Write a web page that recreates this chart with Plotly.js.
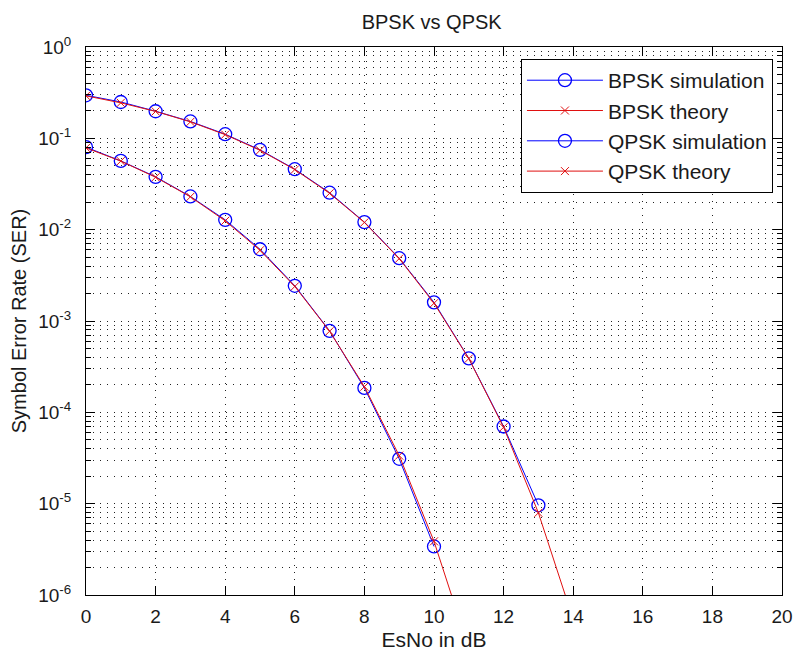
<!DOCTYPE html>
<html>
<head>
<meta charset="utf-8">
<script src="https://cdn.plot.ly/plotly-3.0.1.min.js"></script>
<style>html,body{margin:0;padding:0;background:#fff;}#chart{width:795px;height:652px;}</style>
</head>
<body>
<div id="chart"></div>
<script>
// ---- data ----
const esnoSimBPSK = [0,1,2,3,4,5,6,7,8,9,10];
const serSimBPSK  = [0.0800,0.0566,0.0379,0.0231,0.0128,0.0061,0.00243,7.8e-4,1.85e-4,3.1e-5,3.4e-6];
const esnoThBPSK  = [0,1,2,3,4,5,6,7,8,9,10,11,12];
const serThBPSK   = [0.0786,0.0563,0.0375,0.0229,0.0125,0.00595,0.00239,7.73e-4,1.91e-4,3.36e-5,3.87e-6,2.61e-7,9.0e-9];
const esnoSimQPSK = [0,1,2,3,4,5,6,7,8,9,10,11,12,13];
const serSimQPSK  = [0.296,0.250,0.198,0.153,0.111,0.0748,0.0459,0.0254,0.0121,0.00487,1.6e-3,3.9e-4,7.0e-5,9.6e-6];
const esnoThQPSK  = [0,1,2,3,4,5,6,7,8,9,10,11,12,13,14,15];
const serThQPSK   = [0.292,0.2447,0.1972,0.1516,0.1098,0.0740,0.0455,0.0250,0.0120,0.00482,1.565e-3,3.88e-4,6.86e-5,7.94e-6,5.4e-7,1.9e-8];
const legendNames = ['BPSK simulation','BPSK theory','QPSK simulation','QPSK theory'];
const yTickVals = [1e-6,1e-5,1e-4,1e-3,1e-2,1e-1,1];
const yTickText = ['10<sup>-6</sup>','10<sup>-5</sup>','10<sup>-4</sup>','10<sup>-3</sup>','10<sup>-2</sup>','10<sup>-1</sup>','10<sup>0</sup>'];

// minor tick positions (2..9 per decade)
const yMinor = [];
for (let e = -6; e < 0; e++) for (let m = 2; m <= 9; m++) yMinor.push(m * Math.pow(10, e));

const BLUE = '#0000ff', RED = '#e01010';
function sim(x, y, name) {
  return {x: x, y: y, name: name, type: 'scatter', mode: 'lines+markers',
    line: {color: BLUE, width: 1},
    marker: {symbol: 'circle-open', size: 13, color: BLUE, line: {width: 1.3, color: BLUE}}};
}
function th(x, y, name) {
  return {x: x, y: y, name: name, type: 'scatter', mode: 'lines+markers',
    line: {color: RED, width: 1},
    marker: {symbol: 'x-thin-open', size: 8, color: RED, line: {width: 1, color: RED}}};
}
const data = [
  sim(esnoSimBPSK, serSimBPSK, legendNames[0]),
  th(esnoThBPSK, serThBPSK, legendNames[1]),
  sim(esnoSimQPSK, serSimQPSK, legendNames[2]),
  th(esnoThQPSK, serThQPSK, legendNames[3])
];
const FONT = 'Liberation Sans, Arial, sans-serif';
const GRID = {color: '#222', dash: '1px,6px'};
const layout = {
  width: 795, height: 652,
  margin: {l: 86, r: 13, t: 47, b: 57},
  paper_bgcolor: '#fff', plot_bgcolor: '#fff',
  font: {family: FONT, size: 19, color: '#1a1a1a'},
  title: {text: 'BPSK vs QPSK', font: {size: 20, family: FONT, color: '#1a1a1a'}, x: 0.543, xanchor: 'center', y: 0.966, yanchor: 'middle'},
  showlegend: true,
  legend: {x: 0.987, xanchor: 'right', y: 0.978, yanchor: 'top',
    bgcolor: '#fff', bordercolor: '#000', borderwidth: 1,
    font: {size: 21, family: FONT, color: '#1a1a1a'}, itemwidth: 76, tracegroupgap: 0},
  xaxis: {
    range: [0, 20], dtick: 2, tick0: 0,
    showline: true, linecolor: '#000', linewidth: 1, mirror: 'ticks',
    ticks: 'inside', ticklen: 9, tickcolor: '#000',
    showgrid: true, gridcolor: GRID.color, griddash: GRID.dash, gridwidth: 1,
    zeroline: false, ticklabelstandoff: 4,
    tickfont: {size: 19, family: FONT},
    title: {text: 'EsNo in dB', font: {size: 21, family: FONT}, standoff: 6}
  },
  yaxis: {
    type: 'log', range: [-6, 0],
    tickmode: 'array', tickvals: yTickVals, ticktext: yTickText,
    showline: true, linecolor: '#000', linewidth: 1, mirror: 'ticks',
    ticks: 'inside', ticklen: 9, tickcolor: '#000',
    showgrid: true, gridcolor: GRID.color, griddash: GRID.dash, gridwidth: 1,
    zeroline: false, ticklabelstandoff: 10,
    tickfont: {size: 19, family: FONT},
    minor: {tickmode: 'array', tickvals: yMinor, ticks: 'inside', ticklen: 5, tickcolor: '#000',
      showgrid: true, gridcolor: GRID.color, griddash: GRID.dash, gridwidth: 1},
    title: {text: 'Symbol Error Rate (SER)', font: {size: 20, family: FONT}, standoff: 6}
  }
};
Plotly.newPlot('chart', data, layout, {displayModeBar: false, staticPlot: true});
</script>
</body>
</html>
